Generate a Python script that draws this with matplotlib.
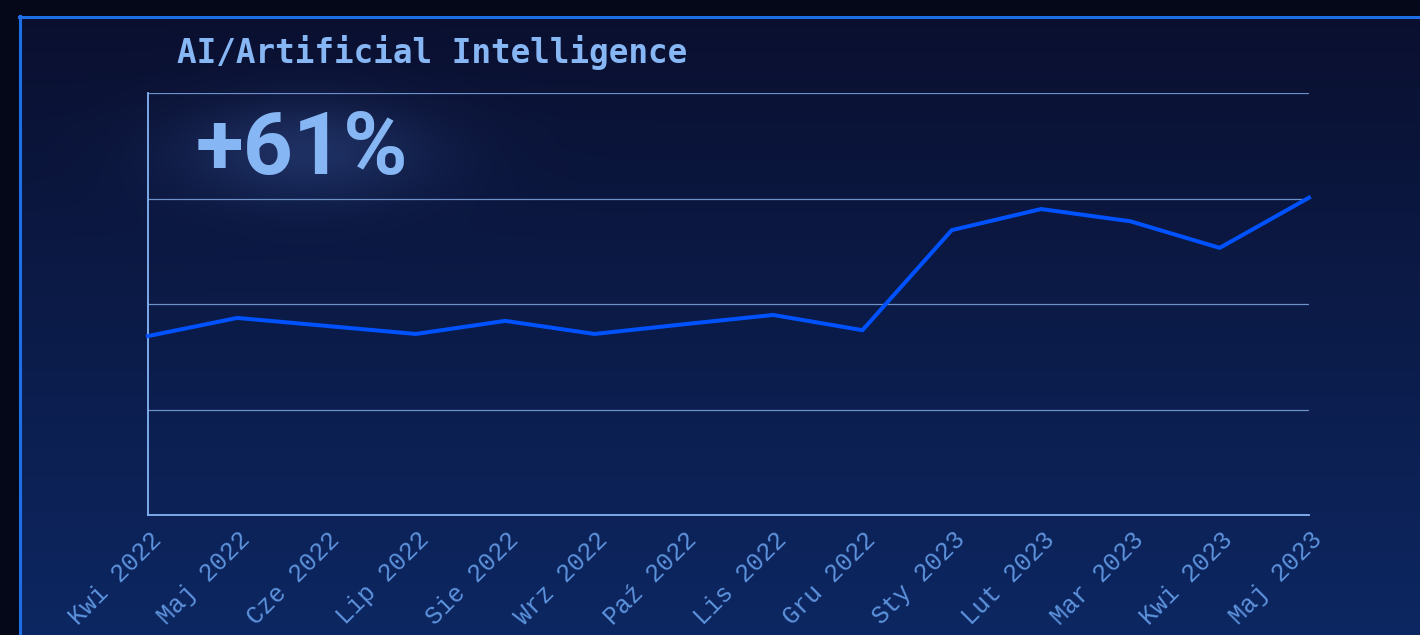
import numpy as np
import matplotlib
matplotlib.use("Agg")
import matplotlib.pyplot as plt
from matplotlib.lines import Line2D
from matplotlib import transforms

# data (index values, 0-100 scale)
months = ["Kwi 2022", "Maj 2022", "Cze 2022", "Lip 2022", "Sie 2022", "Wrz 2022",
          "Paź 2022", "Lis 2022", "Gru 2022", "Sty 2023", "Lut 2023", "Mar 2023",
          "Kwi 2023", "Maj 2023"]
values = [42.4, 46.7, 44.8, 42.9, 46.0, 42.9, 45.2, 47.4, 43.8, 67.5, 72.5, 69.6, 63.3, 75.2]
title = "AI/Artificial Intelligence"
change = "+61%"

W, H = 1420, 635
fig = plt.figure(figsize=(W / 100, H / 100), dpi=100)
fig.patch.set_facecolor("#050818")

# background: vertical gradient inside the frame plus a soft glow behind the number
bg = fig.add_axes([0, 0, 1, 1])
bg.set_axis_off()
yy, xx = np.mgrid[0:H, 0:W]
top = np.array([10, 15, 46]) / 255.0
bot = np.array([13, 39, 98]) / 255.0
t = (yy / H)[..., None]
img = top * (1 - t) + bot * t
glow = np.exp(-(((xx - 305) / 125.0) ** 2 + ((yy - 150) / 50.0) ** 2))[..., None]
img = img + glow * (np.array([42, 60, 112]) / 255.0 - top) * 0.6
outside = (xx < 19) | (yy < 16)
img[outside] = np.array([5, 8, 24]) / 255.0
bg.imshow(img, extent=[0, W, H, 0], aspect="auto", interpolation="bilinear")
bg.set_xlim(0, W)
bg.set_ylim(H, 0)

# frame lines
fig.add_artist(Line2D([20 / W, 20 / W], [0, 1 - 16 / H], color="#1e6ee6", lw=2.2))
fig.add_artist(Line2D([19 / W, 1], [1 - 17 / H, 1 - 17 / H], color="#1e6ee6", lw=2.2))

ax = fig.add_axes([148 / W, 1 - 515 / H, (1309 - 148) / W, (515 - 93) / H])
ax.set_facecolor("none")
x = np.arange(len(months))
ax.plot(x, values, color="#0052ff", lw=2.9, solid_joinstyle="miter", zorder=3, clip_on=False)
ax.set_xlim(0, len(months) - 1)
ax.set_ylim(0, 100)
ax.set_yticks([25, 50, 75, 100])
ax.yaxis.grid(True, color="#6e90c8", lw=0.9)
ax.tick_params(axis="y", length=0, labelleft=False)
ax.tick_params(axis="x", length=0, pad=9)
for s in ["top", "right"]:
    ax.spines[s].set_visible(False)
for s in ["left", "bottom"]:
    ax.spines[s].set_color("#85b5f5")
    ax.spines[s].set_linewidth(1.3)

ax.set_xticks(x)
ax.set_xticklabels(months, rotation=45, ha="right", va="top", rotation_mode="anchor",
                   fontfamily="Liberation Mono", fontsize=18, color="#5d92dc")
off = transforms.ScaledTranslation(1 / 100, 0, fig.dpi_scale_trans)
for lab in ax.get_xticklabels():
    lab.set_transform(lab.get_transform() + off)

fig.text(177 / W, 1 - 52 / H, title, fontfamily="DejaVu Sans Mono", fontweight="bold",
         fontsize=23.5, color="#87b6f4", va="center", ha="left")

fig.text(196 / W, 1 - 150 / H, change, fontfamily="Roboto", fontweight="bold",
         fontsize=63, color="#86b6f3", va="center", ha="left")

fig.savefig("out.png", dpi=100, facecolor=fig.get_facecolor())
